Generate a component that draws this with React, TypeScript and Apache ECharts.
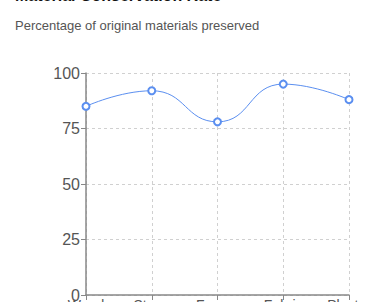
import React, { useEffect, useRef } from "react";
import * as echarts from "echarts";

const categories = ["Wood", "Stone", "Fresco", "Fabric", "Plaster"];
const rates = [85, 92, 78, 95, 88];
const yTicks = [0, 25, 50, 75, 100];

export default function App() {
  const ref = useRef<HTMLDivElement>(null);
  useEffect(() => {
    if (!ref.current) return;
    const chart = echarts.init(ref.current, undefined, { renderer: "svg" });
    chart.setOption({
      animation: false,
      title: {
        text: "Material Conservation Rate",
        subtext: "Percentage of original materials preserved",
        left: 15,
        top: -13,
        padding: 0,
        itemGap: 16,
        textStyle: { fontSize: 16, fontWeight: "bold", color: "#111", fontFamily: "Liberation Sans, Arial, sans-serif" },
        subtextStyle: { fontSize: 13, color: "#555", fontFamily: "Liberation Sans, Arial, sans-serif" },
      },
      grid: { left: 86, right: 26, top: 73, bottom: 7, outerBoundsMode: "none", containLabel: false },
      xAxis: {
        type: "category",
        data: categories,
        boundaryGap: false,
        axisLine: { lineStyle: { color: "#888", width: 1.5 } },
        axisTick: { show: true, alignWithLabel: true, lineStyle: { color: "#888" } },
        axisLabel: { fontSize: 14, color: "#555", margin: 3, fontFamily: "Liberation Sans, Arial, sans-serif" },
        splitLine: { show: true, lineStyle: { type: [3, 3], color: "#d0d0d0" } },
      },
      yAxis: {
        type: "value",
        min: yTicks[0],
        max: yTicks[yTicks.length - 1],
        interval: 25,
        axisLine: { show: true, lineStyle: { color: "#888", width: 1.5 } },
        axisTick: { show: true, lineStyle: { color: "#888" } },
        axisLabel: { fontSize: 16, color: "#555", margin: 6, fontFamily: "Liberation Sans, Arial, sans-serif" },
        splitLine: { show: true, lineStyle: { type: [3, 3], color: "#d0d0d0" } },
      },
      series: [
        {
          type: "line",
          data: rates,
          smooth: true,
          symbol: "emptyCircle",
          symbolSize: 7,
          lineStyle: { color: "#5b8ff0", width: 1 },
          itemStyle: { color: "#5b8ff0", borderWidth: 1 },
        },
      ],
    });
    return () => chart.dispose();
  }, []);
  return (
    <div
      ref={ref}
      style={{ position: "absolute", left: 0, top: 0, width: 375, height: 302 }}
    />
  );
}
